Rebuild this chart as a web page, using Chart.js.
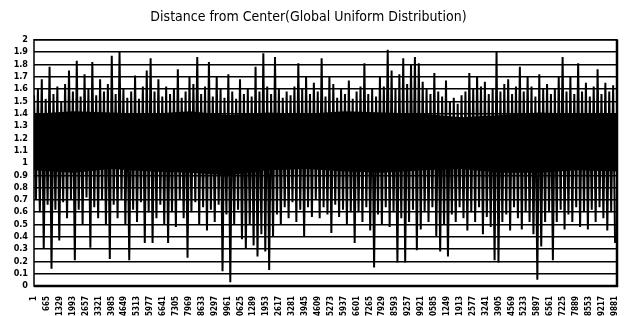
<!DOCTYPE html>
<html>
<head>
<meta charset="utf-8">
<script src="https://cdn.jsdelivr.net/npm/chart.js@4"></script>
<style>
  html, body { margin: 0; padding: 0; background: #fff; }
  #wrap { width: 629px; height: 316px; }
</style>
</head>
<body>
<div id="wrap"><canvas id="dist-chart" width="629" height="316"></canvas></div>
<script>
const sampleStep = 100;

const peaks = [
  1.55, 1.6, 1.68, 1.52, 1.78, 1.56, 1.62, 1.5, 1.64, 1.75,
  1.58, 1.83, 1.54, 1.72, 1.6, 1.82, 1.55, 1.68, 1.58, 1.64,
  1.87, 1.56, 1.9, 1.6, 1.53, 1.58, 1.71, 1.52, 1.62, 1.75,
  1.85, 1.58, 1.68, 1.54, 1.62, 1.56, 1.6, 1.76, 1.53, 1.58,
  1.7, 1.64, 1.86, 1.56, 1.62, 1.82, 1.54, 1.7, 1.6, 1.53,
  1.72, 1.58, 1.52, 1.68, 1.56, 1.6, 1.54, 1.78, 1.58, 1.89,
  1.62, 1.56, 1.86, 1.6, 1.53, 1.58, 1.55, 1.62, 1.81, 1.6,
  1.7, 1.56, 1.65, 1.58, 1.85, 1.54, 1.7, 1.64, 1.53, 1.6,
  1.56, 1.67, 1.52, 1.58, 1.62, 1.81, 1.56, 1.6, 1.54, 1.7,
  1.62, 1.92, 1.75, 1.6, 1.72, 1.85, 1.64, 1.8, 1.86, 1.81,
  1.66, 1.6, 1.56, 1.73, 1.58, 1.54, 1.67, 1.5, 1.53, 1.48,
  1.55, 1.58, 1.73, 1.6, 1.7, 1.62, 1.66, 1.56, 1.6, 1.9,
  1.58, 1.64, 1.68, 1.56, 1.62, 1.78, 1.58, 1.7, 1.62, 1.54,
  1.72, 1.6, 1.64, 1.56, 1.6, 1.7, 1.86, 1.58, 1.7, 1.56,
  1.81, 1.58, 1.65, 1.54, 1.62, 1.76, 1.56, 1.65, 1.58, 1.63,
];

const troughs = [
  0.7, 0.6, 0.3, 0.66, 0.14, 0.62, 0.37, 0.68, 0.55, 0.7,
  0.21, 0.62, 0.5, 0.72, 0.31, 0.64, 0.55, 0.7, 0.5, 0.22,
  0.66, 0.55, 0.7, 0.5, 0.21, 0.62, 0.52, 0.68, 0.35, 0.6,
  0.35, 0.55, 0.66, 0.5, 0.35, 0.6, 0.48, 0.7, 0.55, 0.23,
  0.6, 0.68, 0.5, 0.64, 0.45, 0.62, 0.52, 0.66, 0.12, 0.58,
  0.03, 0.5, 0.62, 0.38, 0.3, 0.5, 0.33, 0.24, 0.42, 0.28,
  0.13, 0.4, 0.58, 0.5, 0.64, 0.55, 0.68, 0.52, 0.62, 0.4,
  0.64, 0.56, 0.7, 0.55, 0.64, 0.58, 0.43, 0.66, 0.56, 0.62,
  0.5, 0.6, 0.35, 0.6, 0.52, 0.64, 0.45, 0.15, 0.58, 0.5,
  0.64, 0.48, 0.6, 0.19, 0.55, 0.19, 0.52, 0.62, 0.29, 0.46,
  0.6, 0.52, 0.64, 0.4, 0.28, 0.5, 0.24, 0.58, 0.52, 0.64,
  0.55, 0.45, 0.6, 0.52, 0.64, 0.42, 0.56, 0.48, 0.21, 0.19,
  0.52, 0.58, 0.45, 0.64, 0.55, 0.46, 0.6, 0.52, 0.42, 0.05,
  0.32, 0.52, 0.6, 0.21, 0.52, 0.62, 0.46, 0.58, 0.52, 0.64,
  0.48, 0.6, 0.46, 0.62, 0.52, 0.64, 0.55, 0.45, 0.6, 0.35,
];

// dense core of the trace (solid black in the picture), every 2000 observations
const coreStep = 2000;
const coreTop = [1.4, 1.42, 1.41, 1.4, 1.42, 1.39, 1.41, 1.4, 1.42, 1.41, 1.4, 1.37, 1.39, 1.41, 1.4, 1.4];
const coreBottom = [0.94, 0.92, 0.95, 0.93, 0.92, 0.9, 0.94, 0.95, 0.93, 0.92, 0.94, 0.95, 0.92, 0.92, 0.94, 0.93];

const xTickLabels = [
  1, 665, 1329, 1993, 2657, 3321, 3985, 4649, 5313, 5977,
  6641, 7305, 7969, 8633, 9297, 9961, 10625, 11289, 11953, 12617,
  13281, 13945, 14609, 15273, 15937, 16601, 17265, 17929, 18593, 19257,
  19921, 20585, 21249, 21913, 22577, 23241, 23905, 24569, 25233, 25897,
  26561, 27225, 27889, 28553, 29217, 29881,
];

function buildSeries() {
  const points = [];
  for (let i = 0; i < peaks.length; i++) {
    points.push({ x: 1 + (2 * i) * sampleStep, y: peaks[i] });
    points.push({ x: 1 + (2 * i + 1) * sampleStep, y: troughs[i] });
  }
  return points;
}

function bandPoints(values) {
  return values.map((v, i) => ({ x: i * coreStep, y: v }));
}

// box round the plot area
const frame = {
  id: 'frame',
  afterDraw(chart) {
    const { ctx, chartArea: a } = chart;
    ctx.save();
    ctx.strokeStyle = '#000';
    ctx.lineWidth = 1.5;
    ctx.strokeRect(a.left, a.top, a.right - a.left, a.bottom - a.top);
    ctx.lineWidth = 2.5;
    ctx.beginPath();
    ctx.moveTo(a.left, a.bottom);
    ctx.lineTo(a.right, a.bottom);
    ctx.lineTo(a.right, a.top);
    ctx.stroke();
    ctx.restore();
  },
};

const narrow = "'Liberation Sans Narrow', 'DejaVu Sans Condensed', sans-serif";

const ctx = document.getElementById('dist-chart').getContext('2d');
new Chart(ctx, {
  type: 'line',
  data: {
    datasets: [
      {
        label: 'Distance',
        data: buildSeries(),
        borderColor: '#000',
        borderWidth: 2,
        pointRadius: 0,
        tension: 0,
        fill: false,
      },
      {
        label: 'core top',
        data: bandPoints(coreTop),
        borderWidth: 0,
        pointRadius: 0,
        backgroundColor: '#000',
        fill: '+1',
      },
      {
        label: 'core bottom',
        data: bandPoints(coreBottom),
        borderWidth: 0,
        pointRadius: 0,
        fill: false,
      },
    ],
  },
  options: {
    responsive: false,
    animation: false,
    layout: { padding: { left: 0, right: 12, top: 0, bottom: 0 } },
    plugins: {
      legend: { display: false },
      tooltip: { enabled: false },
      title: {
        display: true,
        text: 'Distance from Center(Global Uniform Distribution)',
        color: '#000',
        font: { family: narrow, size: 14, weight: 'normal' },
        padding: { top: 9, bottom: 14 },
      },
    },
    scales: {
      x: {
        type: 'linear',
        min: 0,
        max: 30000,
        grid: { display: false },
        border: { display: false },
        afterBuildTicks: (scale) => {
          scale.ticks = xTickLabels.map((v) => ({ value: v }));
        },
        afterFit: (scale) => {
          scale.height = 30;
        },
        ticks: {
          autoSkip: false,
          minRotation: 90,
          maxRotation: 90,
          padding: 2,
          color: '#000',
          font: { family: narrow, size: 8, weight: 'bold' },
          callback: (v) => String(v),
        },
      },
      y: {
        min: 0,
        max: 2,
        grid: { color: '#000', lineWidth: 1.4, drawTicks: false },
        border: { display: false },
        afterFit: (scale) => {
          scale.width = 34;
        },
        ticks: {
          stepSize: 0.1,
          autoSkip: false,
          padding: 6,
          color: '#000',
          font: { family: narrow, size: 9, weight: 'bold' },
          callback: (v) => String(Number(v.toFixed(1))),
        },
      },
    },
  },
  plugins: [frame],
});
</script>
</body>
</html>
